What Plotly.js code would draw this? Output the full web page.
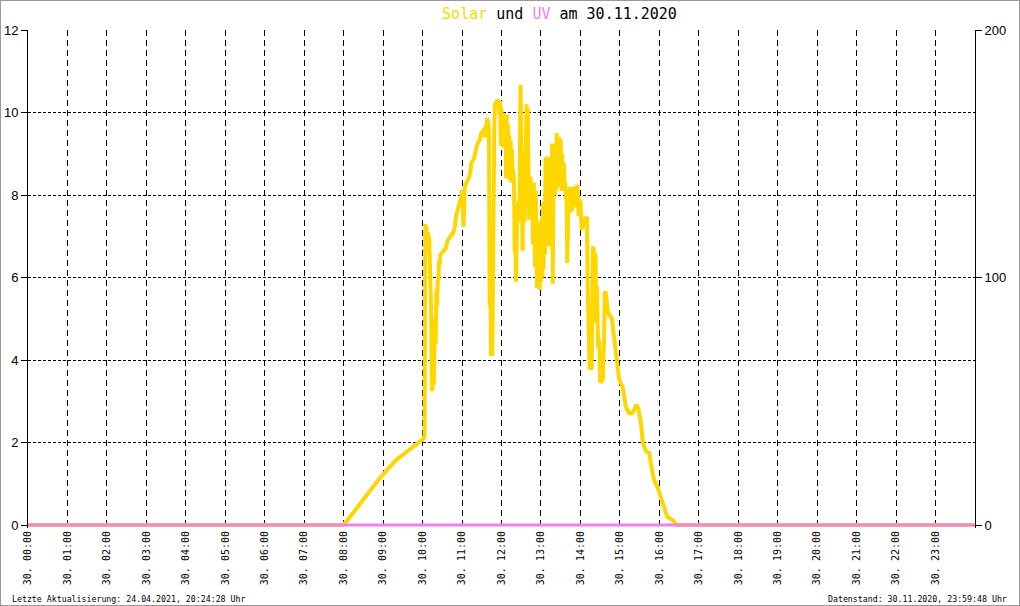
<!DOCTYPE html>
<html>
<head>
<meta charset="utf-8">
<script src="https://cdn.plot.ly/plotly-3.0.1.min.js"></script>
<style>
html,body{margin:0;padding:0;background:#fff;}
#wrap{position:relative;width:1020px;height:606px;}
#chart{width:1020px;height:606px;}
#frame{position:absolute;left:0;top:0;width:1020px;height:606px;box-sizing:border-box;border:1px solid #999;pointer-events:none;}
</style>
</head>
<body>
<div id="wrap"><div id="chart"></div><div id="frame"></div></div>
<script>
// ---- data (30.11.2020) ----
var day = "2020-11-30";
var solarTimes = [
"00:00","07:58","08:05","08:12","08:20","08:29","08:38","08:47","08:55","09:03","09:12","09:20","09:30","09:40","09:48","09:55","10:02","10:03",
"10:04","10:05","10:06","10:07","10:08","10:09","10:10","10:11","10:12","10:13","10:14","10:15","10:16","10:17","10:18","10:19","10:20","10:21","10:22","10:23","10:24","10:25","10:26","10:27","10:30",
"10:35","10:38","10:41","10:44","10:47","10:49","10:51","10:53","10:56","10:58","11:00","11:01","11:02","11:03","11:04","11:06","11:09","11:11","11:13","11:14","11:17","11:19","11:21","11:22","11:25","11:27","11:29","11:32","11:34",
"11:35","11:36","11:37","11:38","11:39","11:40","11:41","11:42","11:43","11:44","11:45","11:46","11:47","11:48","11:49","11:50","11:52","11:54","11:56","11:57","11:58","11:59",
"12:00","12:01","12:02","12:03","12:04","12:05","12:06","12:07","12:08","12:09","12:10","12:11","12:12","12:13","12:14","12:15","12:16","12:17","12:18","12:19",
"12:20","12:21","12:22","12:23","12:24","12:25","12:26","12:27","12:28","12:29","12:30","12:31","12:32","12:33","12:34","12:35","12:36","12:37","12:38","12:39",
"12:40","12:41","12:42","12:43","12:44","12:45","12:46","12:47","12:48","12:49","12:50","12:51","12:52","12:53","12:54","12:55","12:56","12:57","12:58","12:59",
"13:00","13:01","13:02","13:03","13:04","13:05","13:06","13:07","13:08","13:09","13:10","13:11","13:12","13:13","13:14","13:15","13:16","13:17","13:18","13:19",
"13:20","13:21","13:22","13:23","13:24","13:25","13:26","13:27","13:28","13:29","13:30","13:31","13:32","13:33","13:34","13:35","13:36","13:37","13:38","13:39",
"13:40","13:41","13:42","13:43","13:44","13:45","13:46","13:47","13:48","13:49","13:50","13:51","13:52","13:53","13:54","13:55","13:56","13:57","13:58","13:59",
"14:00","14:01","14:02","14:03","14:04","14:05","14:06","14:07","14:08","14:09","14:10","14:11","14:12","14:13","14:14","14:15","14:16","14:17","14:18","14:19",
"14:20","14:21","14:22","14:23","14:24","14:25","14:26","14:27","14:28","14:29","14:30","14:31","14:32","14:33","14:34","14:35","14:36","14:37","14:38","14:39",
"14:40","14:41","14:42","14:44","14:46","14:48","14:51","14:55","14:59","15:04","15:09","15:14","15:19","15:25","15:28","15:32","15:35","15:40","15:45","15:47",
"15:52","15:57","16:03","16:08","16:12","16:20","16:25","16:27","23:59"
];
var solarValues = [
0,0,0.1,0.25,0.4,0.6,0.8,0.98,1.14,1.28,1.44,1.58,1.7,1.82,1.93,2.02,2.1,2.15,
7.3,6.8,7.25,6.7,7.1,6.6,7.0,6.3,6.6,5.2,3.3,3.25,4.3,3.4,4.2,5.0,4.4,5.7,5.3,5.95,5.9,6.4,6.3,6.55,6.6,
6.7,6.9,6.95,7.03,7.1,7.23,7.5,7.6,7.8,7.9,8.12,8.0,7.23,7.5,8.2,8.28,8.35,8.44,8.6,8.77,8.85,8.93,9.1,9.17,9.3,9.33,9.5,9.55,9.6,
9.4,9.7,9.45,9.87,9.5,9.8,9.4,5.3,6.1,4.1,4.5,4.1,6.1,9.45,9.6,10.2,10.25,10.3,10.2,9.95,10.28,9.2,
10.1,9.3,9.98,9.15,9.98,9.15,9.9,8.4,9.95,8.5,9.7,8.5,9.45,8.35,9.3,8.3,9.1,8.35,8.6,8.3,
6.6,7.0,5.9,6.5,7.8,7.4,7.84,7.35,10.0,10.67,9.5,8.6,6.65,8.0,8.65,7.35,8.5,9.5,10.2,8.0,
10.1,8.5,7.4,8.4,8.45,7.8,8.3,7.8,6.8,8.3,7.0,6.25,8.1,7.35,5.75,7.0,6.0,7.35,5.7,7.2,
5.9,7.43,6.0,7.8,6.2,7.84,6.55,8.9,7.35,8.93,6.75,8.9,7.7,8.7,6.75,8.6,7.6,9.25,5.85,8.5,
9.25,8.0,9.2,8.1,9.5,8.5,9.4,8.3,9.4,8.2,9.35,8.1,9.0,8.7,8.12,8.77,8.2,8.28,7.9,8.1,
6.35,7.5,8.0,7.55,8.2,7.6,8.05,7.6,8.0,7.7,8.2,7.7,8.1,8.2,8.0,8.25,8.1,7.5,7.9,7.55,
7.85,7.45,7.15,7.45,7.2,7.4,7.3,7.4,7.47,7.42,7.47,5.9,4.5,3.85,3.78,3.8,4.3,3.76,6.2,6.75,
6.7,6.0,6.6,6.5,4.9,5.8,4.97,4.3,4.5,4.24,3.45,3.9,3.43,3.8,3.5,4.08,4.5,5.62,5.66,5.6,
5.3,5.4,5.13,5.1,5.05,5.0,4.56,4.08,3.52,3.35,2.87,2.71,2.71,2.91,2.83,2.47,1.98,1.78,1.74,1.5,
1.09,0.93,0.61,0.36,0.2,0.12,0.04,0,0
];
var uvTimes = ["00:00","23:59"];
var uvValues = [0,0];
var hourTicks = ["00:00","01:00","02:00","03:00","04:00","05:00","06:00","07:00","08:00","09:00","10:00","11:00",
"12:00","13:00","14:00","15:00","16:00","17:00","18:00","19:00","20:00","21:00","22:00","23:00"];
var hourLabels = ["30. 00:00","30. 01:00","30. 02:00","30. 03:00","30. 04:00","30. 05:00","30. 06:00","30. 07:00",
"30. 08:00","30. 09:00","30. 10:00","30. 11:00","30. 12:00","30. 13:00","30. 14:00","30. 15:00",
"30. 16:00","30. 17:00","30. 18:00","30. 19:00","30. 20:00","30. 21:00","30. 22:00","30. 23:00"];
var leftRange = [0, 12];
var rightRange = [0, 200];
var titleText = '<span style="color:#FFD700">Solar</span> und <span style="color:#EE82EE">UV</span> am 30.11.2020';
var footLeft = "Letzte Aktualisierung: 24.04.2021, 20:24:28 Uhr";
var footRight = "Datenstand: 30.11.2020, 23:59:48 Uhr";

// ---- build ----
function stamp(t){ return day + " " + t; }
var SOLAR = "#FFD700", UV = "#EE82EE";
var mono = "DejaVu Sans Mono";
var sans = "Liberation Sans";

// extend range slightly below zero so the zero lines are not clipped
var plotTop = 30, zeroPx = 525, plotBottom = 528;
var ext = (plotBottom - zeroPx) / (zeroPx - plotTop);
var yR = [leftRange[0] - (leftRange[1]-leftRange[0])*ext, leftRange[1]];
var y2R = [rightRange[0] - (rightRange[1]-rightRange[0])*ext, rightRange[1]];

var traces = [
  {x: solarTimes.map(stamp), y: solarValues, type: "scatter", mode: "lines",
   line: {color: SOLAR, width: 4}, yaxis: "y", hoverinfo: "skip"},
  {x: uvTimes.map(stamp), y: uvValues, type: "scatter", mode: "lines",
   line: {color: UV, width: 3}, yaxis: "y2", hoverinfo: "skip"}
];

var layout = {
  width: 1020, height: 606,
  margin: {l: 28, r: 45, t: plotTop, b: 606 - plotBottom, pad: 0},
  paper_bgcolor: "#fff", plot_bgcolor: "#fff",
  showlegend: false,
  title: {text: titleText, font: {family: mono, size: 15, color: "#000"},
          xref: "container", x: 559.5/1020, xanchor: "center",
          yref: "container", y: 1 - 14/606, yanchor: "middle"},
  xaxis: {type: "date", range: [day + " 00:00", "2020-12-01 00:00"],
          tickmode: "array", tickvals: hourTicks.map(stamp), ticktext: hourLabels,
          tickangle: -90, tickfont: {family: mono, size: 10, color: "#000"},
          ticks: "", ticklabelstandoff: 0,
          showgrid: true, gridcolor: "#000", gridwidth: 1, griddash: "6px,4px",
          zeroline: false, showline: false, fixedrange: true},
  yaxis: {range: yR, tickmode: "array", tickvals: [0,2,4,6,8,10,12],
          ticks: "outside", ticklen: 6, tickcolor: "#000", tickwidth: 1,
          showline: true, linecolor: "#000", linewidth: 1,
          showgrid: true, gridcolor: "#000", gridwidth: 1, griddash: "3px,2px",
          zeroline: false, tickfont: {family: sans, size: 13, color: "#000"}, fixedrange: true},
  yaxis2: {range: y2R, overlaying: "y", side: "right", tickmode: "array", tickvals: [0,100,200],
           ticks: "outside", ticklen: 6, tickcolor: "#000", tickwidth: 1,
           showline: true, linecolor: "#000", linewidth: 1, showgrid: false, zeroline: false,
           tickfont: {family: sans, size: 13, color: "#000"}, fixedrange: true},
  annotations: [
    {text: footLeft, xref: "paper", yref: "paper", x: (10-28)/947, y: (plotBottom-599)/(plotBottom-plotTop),
     xanchor: "left", yanchor: "middle", showarrow: false, font: {family: mono, size: 8.25, color: "#000"}},
    {text: footRight, xref: "paper", yref: "paper", x: (1009-28)/947, y: (plotBottom-599)/(plotBottom-plotTop),
     xanchor: "right", yanchor: "middle", showarrow: false, font: {family: mono, size: 8.25, color: "#000"}}
  ]
};

Plotly.newPlot("chart", traces, layout, {staticPlot: true, displayModeBar: false});
</script>
</body>
</html>
